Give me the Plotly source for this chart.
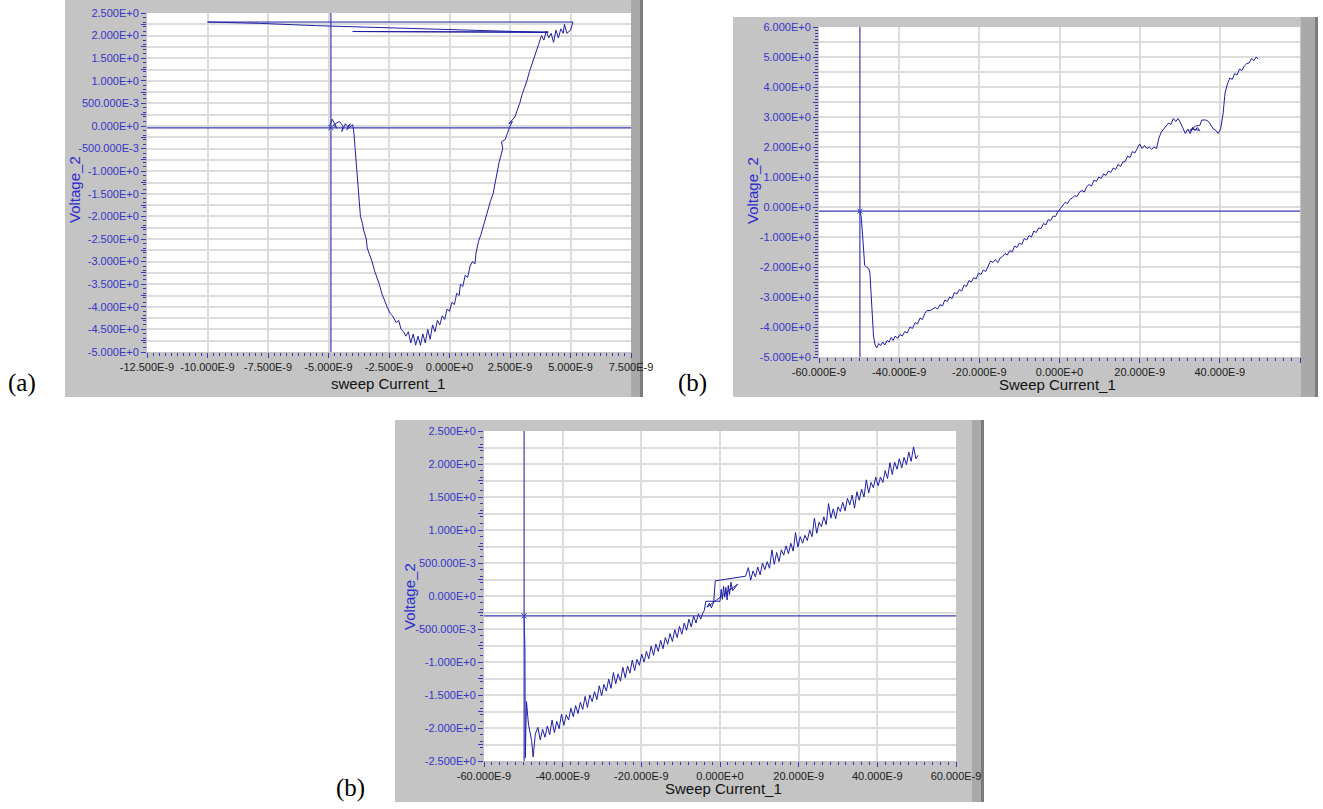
import plotly.graph_objects as go

W, H = 1323, 809

# ------------------------------------------------------------------
# DATA  (x values are in units of 1e-9 A, shown with E-9 tick labels)
# ------------------------------------------------------------------
# panel (a)
a_x = [-4.95, -4.85, -4.75, -4.65, -4.8, -4.55, -4.4, -4.45, -4.3, -4.2, -4.1, -4.25, -4.0, -3.95,
       -3.9, -3.85, -3.82, -3.78, -3.73, -3.72, -3.68, -3.6, -3.55, -3.44, -3.4, -3.3, -3.2, -3.1,
       -3.0, -2.9, -2.8, -2.7, -2.58, -2.45, -2.35, -2.2, -2.1, -2.0, -1.9, -1.8, -1.7, -1.6, -1.5,
       -1.4, -1.3, -1.2, -1.1, -1.0, -0.9, -0.8, -0.7, -0.6, -0.5, -0.4, -0.3, -0.2, -0.1, 0.0, 0.1,
       0.2, 0.3, 0.4, 0.45, 0.55, 0.65, 0.75, 0.85, 0.95, 1.05, 1.1, 1.2, 1.3, 1.4, 1.5, 1.6, 1.7,
       1.8, 1.88, 1.96, 2.05, 2.2, 2.15, 2.3, 2.42, 2.5, 2.6, 2.45, 2.7, 2.8, 2.9, 3.0, 3.1, 3.2, 3.3,
       3.4, 3.5, 3.58, 3.68, 3.8, 3.9, 4.0, 4.1, 4.2, 4.3, 4.4, 4.5, 4.6, 4.7, 4.75, 4.85, 5.0,
       5.1, -10.0, -7.8, -5.5, -2.0, 1.0, 4.05, -4.0, 4.1]
a_y = [0.0, 0.15, 0.05, -0.05, 0.02, 0.1, 0.0, -0.12, 0.05, -0.02, 0.05, -0.08, 0.03, -0.15,
       -0.5, -0.85, -1.05, -1.3, -1.5, -1.75, -2.0, -2.15, -2.3, -2.5, -2.7, -2.85, -3.0, -3.2,
       -3.35, -3.5, -3.7, -3.85, -4.0, -4.15, -4.2, -4.35, -4.3, -4.5, -4.55, -4.65, -4.55, -4.8, -4.6,
       -4.85, -4.65, -4.85, -4.6, -4.8, -4.5, -4.72, -4.4, -4.55, -4.3, -4.4, -4.2, -4.28, -4.05, -4.1, -3.9,
       -3.95, -3.7, -3.75, -3.5, -3.55, -3.3, -3.35, -3.1, -3.0, -3.05, -2.8, -2.55, -2.4, -2.2, -2.0, -1.85, -1.65,
       -1.5, -1.25, -1.0, -0.8, -0.5, -0.35, -0.3, -0.12, 0.0, 0.1, 0.05, 0.2, 0.35, 0.5, 0.7, 0.85, 1.0, 1.2,
       1.35, 1.5, 1.65, 1.8, 2.0, 1.9, 2.1, 1.95, 2.05, 1.85, 2.12, 1.95, 2.15, 2.05, 2.25, 2.05, 2.12,
       2.3, 2.3, 2.27, 2.22, 2.16, 2.12, 2.07, 2.09, 2.08]

# panel (b)
b_x = [-49.8, -49.5, -49.2, -48.9, -48.6, -48.2, -47.6, -47.3, -47.0, -46.7, -46.4, -46.0, -45.6,
       -45.1, -44.6, -44.1, -43.6, -43.0, -42.5, -42.0, -41.5, -41.0, -40.4, -39.8, -39.2, -38.6,
       -38.0, -37.3, -36.7, -36.0, -35.4, -34.8, -34.2, -33.6, -33.0, -32.3, -31.7, -31.0, -30.4,
       -29.8, -29.2, -28.6, -28.0, -27.4, -26.8, -26.2, -25.6, -25.0, -24.4, -23.8, -23.2, -22.6,
       -22.0, -21.4, -20.8, -20.2, -19.6, -19.0, -18.4, -17.8, -17.2, -16.6, -16.0, -15.4, -14.8,
       -14.2, -13.6, -13.0, -12.4, -11.8, -11.2, -10.6, -10.0, -9.4, -8.8, -8.2, -7.6, -7.0, -6.4,
       -5.8, -5.2, -4.6, -4.0, -3.4, -2.8, -2.2, -1.6, -1.0, -0.4, 0.2, 0.8, 1.4, 2.0, 2.6, 3.2, 3.8,
       4.4, 5.0, 5.6, 6.2, 6.8, 7.4, 8.0, 8.6, 9.2, 9.8, 10.4, 11.0, 11.6, 12.2, 12.8, 13.4, 14.0,
       14.6, 15.2, 15.8, 16.4, 17.0, 17.6, 18.2, 18.8, 19.4, 20.0, 20.6, 21.2, 21.8, 22.4, 23.0,
       23.6, 24.2, 24.8, 25.4, 26.0, 26.6, 27.2, 27.8, 28.4, 29.0, 29.6, 30.2, 30.8, 31.4, 32.0,
       32.6, 33.2, 33.8, 34.4, 35.0, 33.5, 32.5, 34.0, 35.0, 35.5, 36.5, 37.2, 37.8, 38.4, 39.0,
       39.6, 40.2, 40.8, 41.3, 41.9, 42.5, 43.1, 43.7, 44.3, 44.9, 45.5, 46.1, 46.7, 47.3, 47.9,
       48.5, 49.1, 49.5]
b_y = [-0.14, -0.3, -0.8, -1.5, -1.95, -2.0, -2.05, -2.2, -3.0, -3.9, -4.3, -4.6, -4.7,
       -4.55, -4.62, -4.5, -4.6, -4.45, -4.5, -4.35, -4.45, -4.3, -4.38, -4.25, -4.3, -4.15,
       -4.2, -4.0, -4.05, -3.85, -3.9, -3.7, -3.75, -3.55, -3.45, -3.45, -3.4, -3.35, -3.4,
       -3.25, -3.3, -3.1, -3.15, -3.0, -3.05, -2.85, -2.9, -2.75, -2.8, -2.6, -2.65, -2.45,
       -2.5, -2.35, -2.4, -2.2, -2.25, -2.1, -2.15, -1.95, -1.8, -1.85, -1.75, -1.85, -1.7,
       -1.65, -1.55, -1.6, -1.45, -1.5, -1.3, -1.35, -1.2, -1.25, -1.05, -1.1, -0.95, -1.0, -0.8,
       -0.85, -0.7, -0.72, -0.55, -0.6, -0.42, -0.45, -0.3, -0.32, -0.15, -0.05, 0.05, 0.15, 0.12, 0.25, 0.3, 0.38,
       0.35, 0.5, 0.55, 0.5, 0.68, 0.75, 0.7, 0.9, 0.85, 1.0, 0.95, 1.1, 1.05, 1.2, 1.15, 1.3, 1.25,
       1.42, 1.35, 1.5, 1.52, 1.7, 1.65, 1.85, 1.8, 1.95, 2.1, 1.95, 2.05, 1.95, 2.0, 1.92,
       2.0, 1.95, 2.3, 2.5, 2.6, 2.7, 2.8, 2.75, 2.95, 2.85, 2.95, 2.8, 2.6, 2.45, 2.6,
       2.45, 2.65, 2.55, 2.65, 2.55, 2.6, 2.55, 2.7, 2.72, 2.9, 2.9, 2.85, 2.7, 2.6, 2.55,
       2.45, 2.6, 3.1, 3.8, 4.1, 4.3, 4.25, 4.45, 4.4, 4.6, 4.55, 4.7, 4.78, 4.8, 4.95,
       4.88, 5.0, 4.93]

# panel (c)
c_x = [-49.8, -49.6, -49.5, -49.2, -48.7, -47.9, -47.5, -46.95, -46.3, -45.7, -45.1, -44.5, -43.9,
       -43.3, -42.7, -42.1, -41.5, -40.9, -40.3, -39.7, -39.1, -38.5, -37.9, -37.3, -36.7, -36.1,
       -35.5, -34.9, -34.3, -33.7, -33.1, -32.5, -31.9, -31.3, -30.7, -30.1, -29.5, -28.9, -28.3,
       -27.7, -27.1, -26.5, -25.9, -25.3, -24.7, -24.1, -23.5, -22.9, -22.3, -21.7, -21.1, -20.5,
       -19.9, -19.3, -18.7, -18.1, -17.5, -16.9, -16.3, -15.7, -15.1, -14.5, -13.9, -13.3, -12.7,
       -12.1, -11.5, -10.9, -10.3, -9.7, -9.1, -8.5, -7.9, -7.3, -6.7, -6.1, -5.5, -4.9, -4.4, -4.0,
       -3.6, 0.0, 0.3, 0.6, 0.9, 1.2, 1.5, 1.8, 2.1, 2.4, 2.8, 3.2, 4.5, -3.3, -2.7, -2.2, -1.6,
       -1.2, 6.5, 7.2, 7.8, 8.4, 9.0, 9.6, 10.2, 10.8, 11.4, 12.0, 12.6, 13.2, 13.8, 14.4, 15.0,
       15.6, 16.2, 16.8, 17.4, 18.0, 18.6, 19.2, 19.8, 20.4, 21.0, 21.6, 22.2, 22.8, 23.4, 24.0,
       24.6, 25.2, 25.8, 26.4, 27.0, 27.6, 28.2, 28.8, 29.4, 30.0, 30.6, 31.2, 31.8, 32.4, 33.0,
       33.6, 34.2, 34.8, 35.4, 36.0, 36.6, 37.2, 37.8, 38.4, 39.0, 39.6, 40.2, 40.8, 41.4, 42.0,
       42.6, 43.2, 43.8, 44.4, 45.0, 45.6, 46.2, 46.8, 47.4, 48.0, 48.6, 49.2, 49.8, 50.3]
c_y = [-0.30, -0.78, -2.45, -1.60, -1.94, -2.19, -2.44, -2.09, -1.99, -2.18, -2.02, -2.14, -1.97,
       -2.10, -1.88, -2.07, -1.90, -2.01, -1.79, -1.96, -1.80, -1.88, -1.70, -1.83, -1.66, -1.78,
       -1.61, -1.72, -1.52, -1.69, -1.50, -1.60, -1.45, -1.57, -1.36, -1.51, -1.34, -1.44, -1.26,
       -1.40, -1.16, -1.33, -1.18, -1.29, -1.08, -1.24, -1.06, -1.17, -0.97, -1.13, -0.96, -1.05,
       -0.88, -1.00, -0.84, -0.95, -0.76, -0.90, -0.73, -0.84, -0.67, -0.80, -0.63, -0.73, -0.57,
       -0.69, -0.51, -0.63, -0.46, -0.58, -0.41, -0.52, -0.35, -0.47, -0.30, -0.41, -0.27, -0.35, -0.26, -0.22,
       -0.08, -0.08, 0.10, -0.05, 0.15, -0.02, 0.13, -0.06, 0.16, 0.02, 0.21, 0.08, 0.18, -0.17, -0.11, -0.18, -0.09,
       0.23, 0.30, 0.43, 0.24, 0.38, 0.29, 0.44, 0.32, 0.50, 0.40, 0.52, 0.42, 0.70, 0.48, 0.66, 0.52,
       0.70, 0.62, 0.76, 0.64, 0.80, 0.68, 0.96, 0.74, 0.90, 0.80, 0.92, 0.84, 1.00, 0.90, 1.18,
       0.95, 1.12, 1.05, 1.20, 1.08, 1.40, 1.18, 1.32, 1.17, 1.35, 1.28, 1.42, 1.29, 1.48, 1.38,
       1.53, 1.33, 1.58, 1.45, 1.62, 1.50, 1.76, 1.56, 1.72, 1.64, 1.80, 1.67, 1.80, 1.72, 1.90,
       1.78, 2.02, 1.84, 2.03, 1.92, 2.08, 1.94, 2.10, 1.99, 2.18, 2.04, 2.26, 2.08, 2.13]

# cursors (x, y)
cursor_a = [-4.9, -0.04]
cursor_b = [-49.8, -0.14]
cursor_c = [-49.8, -0.30]

# tick labels
a_xticks = [-12.5, -10.0, -7.5, -5.0, -2.5, 0.0, 2.5, 5.0, 7.5]
a_xlabels = ['-12.500E-9', '-10.000E-9', '-7.500E-9', '-5.000E-9', '-2.500E-9', '0.000E+0',
             '2.500E-9', '5.000E-9', '7.500E-9']
a_yticks = [2.5, 2.0, 1.5, 1.0, 0.5, 0.0, -0.5, -1.0, -1.5, -2.0, -2.5, -3.0, -3.5, -4.0, -4.5, -5.0]
a_ylabels = ['2.500E+0', '2.000E+0', '1.500E+0', '1.000E+0', '500.000E-3', '0.000E+0',
             '-500.000E-3', '-1.000E+0', '-1.500E+0', '-2.000E+0', '-2.500E+0', '-3.000E+0',
             '-3.500E+0', '-4.000E+0', '-4.500E+0', '-5.000E+0']
bc_xticks = [-60, -40, -20, 0, 20, 40, 60]
bc_xlabels = ['-60.000E-9', '-40.000E-9', '-20.000E-9', '0.000E+0', '20.000E-9', '40.000E-9', '60.000E-9']
b_yticks = [6, 5, 4, 3, 2, 1, 0, -1, -2, -3, -4, -5]
b_ylabels = ['6.000E+0', '5.000E+0', '4.000E+0', '3.000E+0', '2.000E+0', '1.000E+0', '0.000E+0',
             '-1.000E+0', '-2.000E+0', '-3.000E+0', '-4.000E+0', '-5.000E+0']
c_yticks = [2.5, 2.0, 1.5, 1.0, 0.5, 0.0, -0.5, -1.0, -1.5, -2.0, -2.5]
c_ylabels = ['2.500E+0', '2.000E+0', '1.500E+0', '1.000E+0', '500.000E-3', '0.000E+0',
             '-500.000E-3', '-1.000E+0', '-1.500E+0', '-2.000E+0', '-2.500E+0']

# ------------------------------------------------------------------
# STYLE
# ------------------------------------------------------------------
FONT = 'Liberation Sans'
LINE = '#1f1fa6'
CURS = '#3a3ab8'
TICK = '#3838b8'
GRID = '#dcdcdc'
YLAB = '#3535c8'
FRAME = '#c4c4c4'


def px(xp):
    return xp / W


def py(yp):
    return 1 - yp / H


def xaxis(dom, rng, tv, tt, mdt, anchor):
    return dict(domain=[px(dom[0]), px(dom[1])], range=rng, anchor=anchor,
                tickmode='array', tickvals=tv, ticktext=tt,
                ticks='outside', ticklen=5, tickwidth=1, tickcolor=TICK,
                showgrid=True, gridcolor=GRID, gridwidth=1.5, zeroline=False, showline=False,
                tickfont=dict(family=FONT, size=11, color='#202020'),
                minor=dict(tickmode='linear', tick0=rng[0], dtick=mdt, ticks='outside',
                           ticklen=3, tickwidth=1, tickcolor=TICK, showgrid=False),
                automargin=False, fixedrange=True)


def yaxis(dom, rng, tv, tt, mdt, anchor):
    mids = [(tv[i] + tv[i + 1]) / 2 for i in range(len(tv) - 1)]
    return dict(domain=[py(dom[1]), py(dom[0])], range=rng, anchor=anchor,
                tickmode='array', tickvals=list(tv) + mids, ticktext=list(tt) + [''] * len(mids),
                ticks='outside', ticklen=5, tickwidth=1, tickcolor=TICK,
                showgrid=True, gridcolor=GRID, gridwidth=1.5, zeroline=False, showline=False,
                tickfont=dict(family=FONT, size=11, color=YLAB),
                minor=dict(tickmode='linear', tick0=rng[0], dtick=mdt, ticks='outside',
                           ticklen=3, tickwidth=1, tickcolor=TICK, showgrid=False),
                automargin=False, fixedrange=True)


fig = go.Figure()
panels = [
    (a_x, a_y, 'x', 'y', cursor_a),
    (b_x, b_y, 'x2', 'y2', cursor_b),
    (c_x, c_y, 'x3', 'y3', cursor_c),
]
for xs, ys, xa, ya, cur in panels:
    fig.add_trace(go.Scatter(x=xs, y=ys, mode='lines', xaxis=xa, yaxis=ya,
                             line=dict(color=LINE, width=1), showlegend=False, hoverinfo='skip'))
    fig.add_trace(go.Scatter(x=[cur[0]], y=[cur[1]], mode='markers', xaxis=xa, yaxis=ya,
                             marker=dict(symbol='x-thin-open', size=5, color=CURS,
                                         line=dict(color=CURS, width=1)),
                             showlegend=False, hoverinfo='skip'))

shapes = []
# gray LabVIEW frames (pixel boxes) and right-hand scroll strips
frames = [(65, 0, 643, 397), (733, 17, 1318, 397), (395, 420, 984, 802)]
strips = [(631, 0, 643, 397), (1301, 17, 1318, 397), (972, 420, 984, 802)]
for (x0, y0, x1, y1) in frames:
    shapes.append(dict(type='rect', xref='paper', yref='paper', x0=px(x0), x1=px(x1),
                       y0=py(y1), y1=py(y0), fillcolor=FRAME, line=dict(width=0), layer='below'))
for (x0, y0, x1, y1) in strips:
    shapes.append(dict(type='rect', xref='paper', yref='paper', x0=px(x0), x1=px(x1),
                       y0=py(y1), y1=py(y0), fillcolor='#a9a9a9', line=dict(width=0), layer='below'))
    shapes.append(dict(type='rect', xref='paper', yref='paper', x0=px(x1 - 3), x1=px(x1),
                       y0=py(y1), y1=py(y0), fillcolor='#7c7c7c', line=dict(width=0), layer='below'))

for xa, ya, cur in [('x', 'y', cursor_a), ('x2', 'y2', cursor_b), ('x3', 'y3', cursor_c)]:
    # white plot area
    shapes.append(dict(type='rect', xref=xa + ' domain', yref=ya + ' domain', x0=0, x1=1, y0=0, y1=1,
                       fillcolor='white', line=dict(width=0), layer='below'))
    # cursor cross-hair
    shapes.append(dict(type='line', xref=xa, yref=ya + ' domain', x0=cur[0], x1=cur[0], y0=0, y1=1,
                       line=dict(color=CURS, width=1.2), layer='above'))
    shapes.append(dict(type='line', xref=xa + ' domain', yref=ya, x0=0, x1=1, y0=cur[1], y1=cur[1],
                       line=dict(color=CURS, width=1.2), layer='above'))

annotations = []
titles = [
    # (text, x_px, y_px, angle, color, size)
    ('Voltage_2', 74, 190, -90, '#2b2bd0', 15),
    ('sweep Current_1', 388, 383, 0, '#111111', 15),
    ('Voltage_2', 752, 190, -90, '#2b2bd0', 15),
    ('Sweep Current_1', 1057, 384, 0, '#111111', 15),
    ('Voltage_2', 409, 597, -90, '#2b2bd0', 15),
    ('Sweep Current_1', 723, 788, 0, '#111111', 15),
]
for t, xp, yp, ang, col, sz in titles:
    annotations.append(dict(text=t, x=px(xp), y=py(yp), xref='paper', yref='paper',
                            xanchor='center', yanchor='middle', showarrow=False, textangle=ang,
                            font=dict(family=FONT, size=sz, color=col)))
for t, xp, yp in [('(a)', 22, 383), ('(b)', 692, 383), ('(b)', 350, 788)]:
    annotations.append(dict(text=t, x=px(xp), y=py(yp), xref='paper', yref='paper',
                            xanchor='center', yanchor='middle', showarrow=False,
                            font=dict(family='Liberation Serif', size=25, color='black')))

fig.update_layout(
    width=W, height=H, margin=dict(l=0, r=0, t=0, b=0),
    paper_bgcolor='white', plot_bgcolor='rgba(0,0,0,0)',
    xaxis=xaxis((147, 631), [-12.5, 7.5], a_xticks, a_xlabels, 0.25, 'y'),
    yaxis=yaxis((13, 352), [-5.0, 2.5], a_yticks, a_ylabels, 0.1, 'x'),
    xaxis2=xaxis((819, 1300), [-60, 60], bc_xticks, bc_xlabels, 2, 'y2'),
    yaxis2=yaxis((27, 357), [-5, 6], b_yticks, b_ylabels, 0.1, 'x2'),
    xaxis3=xaxis((484, 956), [-60, 60], bc_xticks, bc_xlabels, 2, 'y3'),
    yaxis3=yaxis((431, 761), [-2.5, 2.5], c_yticks, c_ylabels, 0.1, 'x3'),
    shapes=shapes, annotations=annotations,
)

fig.write_html('out.html')
